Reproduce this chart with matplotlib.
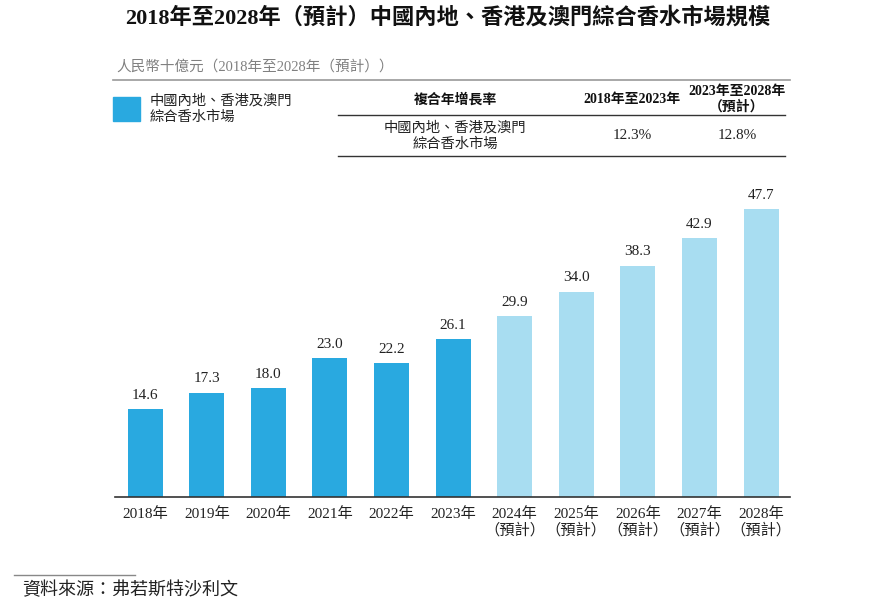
import matplotlib.pyplot as plt
from matplotlib.lines import Line2D

# Data
years = ["2018年", "2019年", "2020年", "2021年", "2022年", "2023年",
         "2024年\n（預計）", "2025年\n（預計）", "2026年\n（預計）", "2027年\n（預計）", "2028年\n（預計）"]
values = [14.6, 17.3, 18.0, 23.0, 22.2, 26.1, 29.9, 34.0, 38.3, 42.9, 47.7]
n_actual = 6
cagr_header = ["複合年增長率", "2018年至2023年", "2023年至2028年\n（預計）"]
cagr_row = ["中國內地、香港及澳門\n綜合香水市場", "12.3%", "12.8%"]

dark = "#29A9E0"
light = "#A8DDF1"
fonts = ["Liberation Serif", "Noto Sans CJK TC"]
plt.rcParams["font.family"] = fonts

W, H = 873, 609
fig = plt.figure(figsize=(W / 100, H / 100), dpi=100)


def fx(px):
    return px / W


def fy(py):
    return 1 - py / H


# Title
fig.text(fx(448), fy(18), "2018年至2028年（預計）中國內地、香港及澳門綜合香水市場規模",
         ha="center", va="center", fontsize=16, fontweight="bold", color="#111111")

# Unit label and rule
fig.text(fx(116), fy(67), "人民幣十億元（2018年至2028年（預計））",
         ha="left", va="center", fontsize=10.5, color="#808080")
fig.add_artist(Line2D([fx(113), fx(790)], [fy(80), fy(80)], color="#999999", lw=1.2))

# Legend
fig.patches.append(plt.Rectangle((fx(113), fy(121)), fx(27), 24 / H,
                                 transform=fig.transFigure, color=dark))
fig.text(fx(150), fy(109), "中國內地、香港及澳門\n綜合香水市場",
         ha="left", va="center", fontsize=10.3, color="#222222", linespacing=1.35)

# CAGR table
col_x = [455, 632, 737]
fig.text(fx(col_x[0]), fy(100), cagr_header[0], ha="center", va="center",
         fontsize=10, fontweight="bold", color="#111111")
fig.text(fx(col_x[1]), fy(100), cagr_header[1], ha="center", va="center",
         fontsize=10, fontweight="bold", color="#111111")
fig.text(fx(col_x[2]), fy(99), cagr_header[2], ha="center", va="center",
         fontsize=10, fontweight="bold", color="#111111", linespacing=1.2)
fig.add_artist(Line2D([fx(338), fx(785)], [fy(115), fy(115)], color="#333333", lw=1))
fig.text(fx(col_x[0]), fy(136), cagr_row[0], ha="center", va="center",
         fontsize=10.3, color="#222222", linespacing=1.35)
fig.text(fx(col_x[1]), fy(136), cagr_row[1], ha="center", va="center",
         fontsize=11, color="#222222")
fig.text(fx(col_x[2]), fy(136), cagr_row[2], ha="center", va="center",
         fontsize=11, color="#222222")
fig.add_artist(Line2D([fx(338), fx(785)], [fy(156), fy(156)], color="#333333", lw=1))

# Bars
ax = fig.add_axes([fx(115), fy(497), fx(790) - fx(115), (497 - 170) / H])
x = list(range(len(values)))
colors = [dark if i < n_actual else light for i in x]
ax.bar(x, values, width=0.57, color=colors)
for i, v in enumerate(values):
    ax.text(i, v + 1.2, f"{v:.1f}", ha="center", va="bottom", fontsize=11, color="#222222")

ax.set_xlim(-0.49, 10.47)
ax.set_ylim(0, 327 / 6.04)
ax.set_xticks(x)
ax.set_xticklabels(years, fontsize=11, color="#222222", linespacing=1.2, va="top")
ax.tick_params(axis="x", length=0, pad=7)
ax.set_yticks([])
for s in ["top", "right", "left"]:
    ax.spines[s].set_visible(False)
ax.spines["bottom"].set_color("#333333")
ax.spines["bottom"].set_linewidth(1.2)

# Source
fig.add_artist(Line2D([fx(14), fx(135)], [fy(575), fy(575)], color="#888888", lw=1))
fig.text(fx(22), fy(591), "資料來源：弗若斯特沙利文", ha="left", va="center",
         fontsize=13, style="italic", color="#222222")

fig.savefig("out.png", dpi=100)
